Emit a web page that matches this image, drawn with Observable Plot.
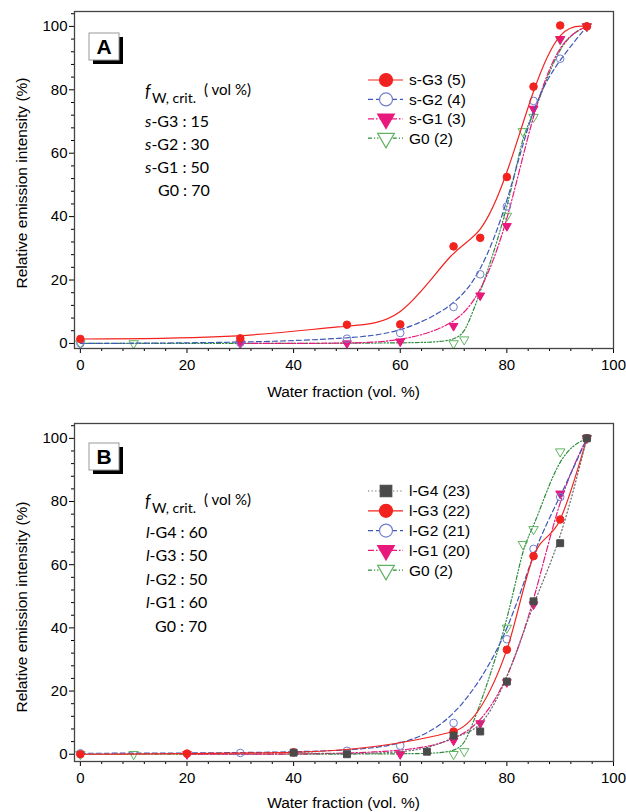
<!DOCTYPE html>
<html><head><meta charset="utf-8">
<script src="https://cdn.jsdelivr.net/npm/d3@7"></script>
<script src="https://cdn.jsdelivr.net/npm/@observablehq/plot@0.6"></script>
<style>body{margin:0;background:#fff} svg{display:block}</style>
</head><body><div id="chart"></div>
<script>
// ---------- data ----------
const xTicks = [0, 20, 40, 60, 80, 100];
const yTicks = [0, 20, 40, 60, 80, 100];
const xLabel = "Water fraction (vol. %)";
const yLabel = "Relative emission intensity (%)";

// Panel A
const aG3x = [0, 30, 50, 60, 70, 75, 80, 85, 90, 95];
const aG3y = [1.4, 1.6, 5.9, 6.0, 30.6, 33.3, 52.5, 81.0, 100.3, 100];
const aG2x = [0, 30, 50, 60, 70, 75, 80, 85, 90, 95];
const aG2y = [0, 0.2, 1.5, 3.3, 11.5, 21.8, 43.2, 76.5, 89.8, 100];
const aG1x = [30, 50, 60, 70, 75, 80, 85, 90, 95];
const aG1y = [0, 0, 0.6, 5.5, 15.1, 37.0, 74.0, 96.0, 100];
const aG0x = [0, 10, 70, 72, 80, 83, 85, 90, 95];
const aG0y = [0, 0, 0, 1.2, 40.2, 66.9, 71.4, 95.9, 100];
const aNames = ["s-G3 (5)", "s-G2 (4)", "s-G1 (3)", "G0 (2)"];
const aCrit = [["s", "-G3 : 15"], ["s", "-G2 : 30"], ["s", "-G1 : 50"], ["", "G0 : 70"]];

// Panel B
const bG4x = [40, 50, 65, 70, 75, 80, 85, 90, 95];
const bG4y = [0.5, 0, 0.8, 5.9, 7.2, 23.0, 48.4, 66.8, 100];
const bG3x = [0, 20, 40, 70, 80, 85, 90, 95];
const bG3y = [0, 0.2, 0.6, 7.2, 33.1, 62.7, 74.3, 100];
const bG2x = [0, 30, 50, 60, 70, 80, 85, 90, 95];
const bG2y = [0.3, 0.4, 1.1, 2.7, 9.9, 36.4, 65.0, 81.4, 100];
const bG1x = [20, 60, 70, 75, 80, 85, 90, 95];
const bG1y = [0, 0, 4.3, 9.8, 22.8, 47.4, 82.5, 100];
const bG0x = [0, 10, 70, 72, 80, 83, 85, 90, 95];
const bG0y = [0, 0, 0, 0.9, 40.0, 66.5, 71.2, 95.8, 100];
const bNames = ["l-G4 (23)", "l-G3 (22)", "l-G2 (21)", "l-G1 (20)", "G0 (2)"];
const bCrit = [["l", "-G4 : 60"], ["l", "-G3 : 50"], ["l", "-G2 : 50"], ["l", "-G1 : 60"], ["", "G0 : 70"]];

// ---------- styles ----------
const ST = {
  red:  {line: "#f2231f", stroke: "#f2231f", fill: "#f2231f", dash: null, symbol: "circle", rot: 0, r: 3.8, lr: 6.5},
  blue: {line: "#3f57b8", stroke: "#6f7fd0", fill: "none", dash: "5,3", symbol: "circle", rot: 0, r: 3.8, lr: 6.5},
  mag:  {line: "#e8197d", stroke: "#e8197d", fill: "#e8197d", dash: "6,2,1.5,2", symbol: "triangle", rot: 180, r: 3.3, lr: 6.2},
  green:{line: "#2e8b3e", stroke: "#5fb45f", fill: "none", dash: "4,2,1.2,2,1.2,2", symbol: "triangle", rot: 180, r: 3.5, lr: 6.2},
  gray: {line: "#666666", stroke: "#4a4a4a", fill: "#4a4a4a", dash: "1.2,2.4", symbol: "square", rot: 0, r: 3.9, lr: 6.5}
};

const toRows = (xs, ys) => xs.map((x, i) => ({x, y: ys[i]}));

function seriesMarks(xs, ys, st, curve) {
  const data = toRows(xs, ys);
  return [
    Plot.line(data, {x: "x", y: "y", curve, stroke: st.line, strokeWidth: 1.2, strokeDasharray: st.dash}),
    Plot.dot(data, {x: "x", y: "y", symbol: st.symbol, rotate: st.rot, r: st.r, fill: st.fill, stroke: st.stroke, strokeWidth: 1})
  ];
}

function panel({height, marginTop, marginBottom, yDomain, series}) {
  const minorX = d3.range(0, 101, 4).filter(v => v % 20 !== 0);
  const minorY = d3.range(0, 105, 4).filter(v => v % 20 !== 0);
  return Plot.plot({
    width: 626, height, marginTop, marginBottom, marginLeft: 74, marginRight: 13,
    x: {domain: [-1.1, 100]},
    y: {domain: yDomain},
    style: {fontFamily: "'Liberation Sans', Arial, sans-serif", fontSize: "15px", color: "black", background: "white", overflow: "visible"},
    marks: [
      Plot.axisX({ticks: xTicks, tickSize: 5, tickPadding: 6, label: null, tickFormat: d => d, fontSize: 15}),
      Plot.axisX({ticks: minorX, tickSize: 3, text: null, label: null}),
      Plot.axisY({ticks: yTicks, tickSize: 5, tickPadding: 2, label: null, tickFormat: d => d, fontSize: 15}),
      Plot.axisY({ticks: minorY, tickSize: 3, text: null, label: null}),
      ...series.flatMap(s => seriesMarks(s[0], s[1], s[2], s[3])),
      Plot.frame({stroke: "#444", strokeWidth: 1.3})
    ]
  });
}

function decorate(svg, cfg) {
  const g = d3.select(svg).append("g").attr("text-anchor", "start");
  // panel letter box
  g.append("rect").attr("x", cfg.box[0] + 4).attr("y", cfg.box[1] + 4).attr("width", 30).attr("height", 27).attr("fill", "black");
  g.append("rect").attr("x", cfg.box[0]).attr("y", cfg.box[1]).attr("width", 30).attr("height", 27)
    .attr("fill", "white").attr("stroke", "#999").attr("stroke-width", 1);
  g.append("text").attr("x", cfg.box[0] + 15).attr("y", cfg.box[1] + 21).attr("text-anchor", "middle")
    .attr("font-family", "'Liberation Sans', Arial, sans-serif").attr("font-weight", "bold").attr("font-size", 21).text(cfg.letter);
  // axis labels
  g.append("text").attr("transform", `translate(22,${cfg.ylabY}) rotate(-90)`).attr("text-anchor", "middle").attr("dy", "0.35em")
    .attr("font-family", "'Liberation Sans', Arial, sans-serif").attr("font-size", 15.5).text(yLabel);
  g.append("text").attr("x", 343.5).attr("y", cfg.xlabY).attr("text-anchor", "middle").attr("dy", "0.35em")
    .attr("font-family", "'Liberation Sans', Arial, sans-serif").attr("font-size", 15.5).text(xLabel);
  // f_w,crit annotation
  const ff = "Lato, 'Open Sans', sans-serif";
  const t = g.append("text").attr("font-family", ff).attr("font-size", 15).attr("y", cfg.fY);
  t.append("tspan").attr("x", 145).attr("font-style", "italic").attr("font-size", 17).text("f");
  t.append("tspan").attr("x", 152).attr("dy", 6).attr("font-size", 14).text("W, crit.");
  t.append("tspan").attr("x", 204).attr("dy", -8).attr("font-size", 15).text("( vol %)");
  cfg.crit.forEach((c, i) => {
    const tt = g.append("text").attr("font-family", ff).attr("font-size", 16).attr("y", cfg.critY + i * cfg.critStep);
    if (c[0]) {
      tt.attr("x", cfg.critX);
      tt.append("tspan").attr("font-style", "italic").text(c[0]);
      tt.append("tspan").text(c[1]);
    } else {
      tt.attr("x", cfg.critX + cfg.g0dx).text(c[1]);
    }
  });
  // legend
  cfg.legend.forEach((e, i) => {
    const y = cfg.legY + i * cfg.legStep;
    const st = e[1];
    g.append("line").attr("x1", 368).attr("x2", 403).attr("y1", y).attr("y2", y)
      .attr("stroke", st.line).attr("stroke-width", 1.2).attr("stroke-dasharray", st.dash);
    const sym = st.symbol === "circle" ? d3.symbolCircle : st.symbol === "square" ? d3.symbolSquare : d3.symbolTriangle;
    g.append("path").attr("d", d3.symbol(sym, Math.PI * st.lr * st.lr)())
      .attr("transform", `translate(386,${y}) rotate(${st.rot})`)
      .attr("fill", st.fill === "none" ? "white" : st.fill).attr("stroke", st.stroke).attr("stroke-width", 1.2);
    g.append("text").attr("x", 409).attr("y", y).attr("dy", "0.35em")
      .attr("font-family", "'Liberation Sans', Arial, sans-serif").attr("font-size", 15.5).text(e[0]);
  });
}

// ---------- panel A ----------
const svgA = panel({
  height: 400, marginTop: 11, marginBottom: 52, yDomain: [-1.6, 104.7],
  series: [[aG0x, aG0y, ST.green, "basis"], [aG1x, aG1y, ST.mag, "basis"], [aG2x, aG2y, ST.blue, "basis"], [aG3x, aG3y, ST.red, "basis"]]
});
decorate(svgA, {
  letter: "A", box: [89, 33], ylabY: 183, xlabY: 392, fY: 97,
  crit: aCrit, critX: 145, critY: 126.7, critStep: 23.2, g0dx: 13,
  legend: [[aNames[0], ST.red], [aNames[1], ST.blue], [aNames[2], ST.mag], [aNames[3], ST.green]],
  legY: 80, legStep: 19.4
});

// ---------- panel B ----------
const svgB = panel({
  height: 412, marginTop: 23, marginBottom: 51, yDomain: [-2.3, 104.7],
  series: [[bG0x, bG0y, ST.green, "basis"], [bG1x, bG1y, ST.mag, "basis"], [bG2x, bG2y, ST.blue, "basis"],
           [bG3x, bG3y, ST.red, "monotone-x"], [bG4x, bG4y, ST.gray, "basis"]]
});
decorate(svgB, {
  letter: "B", box: [89, 43], ylabY: 207, xlabY: 403, fY: 106.7,
  crit: bCrit, critX: 146, critY: 138, critStep: 23.4, g0dx: 9,
  legend: [[bNames[0], ST.gray], [bNames[1], ST.red], [bNames[2], ST.blue], [bNames[3], ST.mag], [bNames[4], ST.green]],
  legY: 91, legStep: 19.8
});

const root = document.getElementById("chart");
root.appendChild(svgA);
root.appendChild(svgB);
</script>
</body></html>
